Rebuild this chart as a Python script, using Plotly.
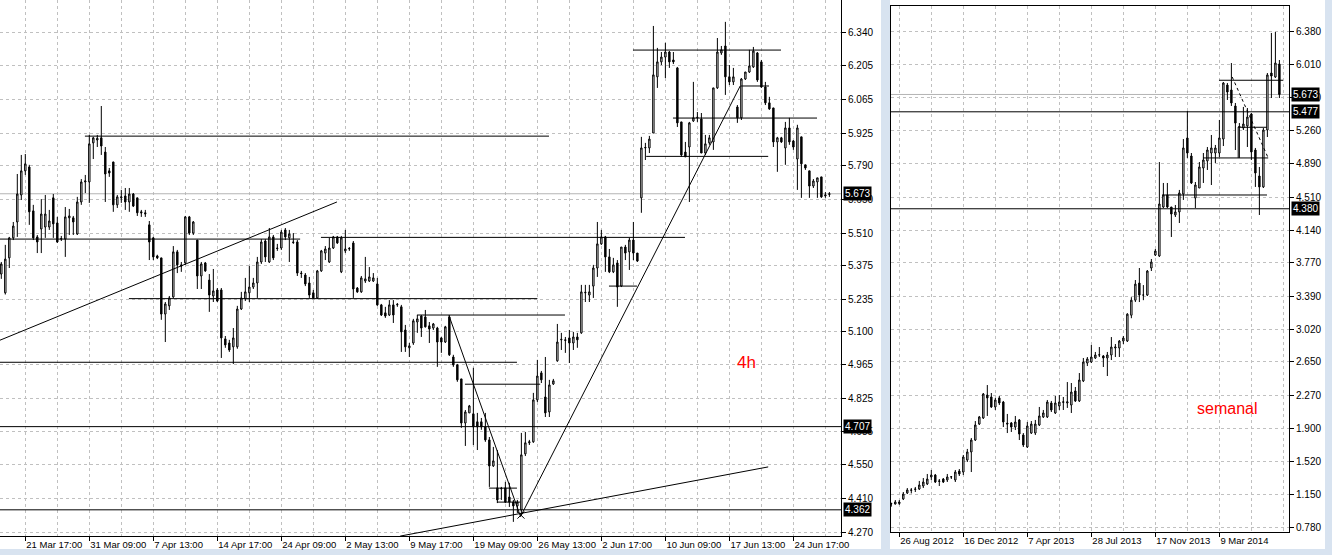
import plotly.graph_objects as go

# ---------------- 4h panel data ----------------
o4 = [5.340,5.262,5.407,5.490,5.556,5.668,5.768,5.784,5.602,5.494,5.527,5.535,5.535,5.656,5.552,5.485,5.485,5.573,5.573,5.506,
      5.639,5.722,5.722,5.884,5.896,5.905,5.846,5.768,5.805,5.627,5.656,5.664,5.639,5.672,5.656,5.598,5.594,5.544,5.490,5.415,
      5.407,5.174,5.208,5.245,5.432,5.378,5.386,5.577,5.510,5.481,5.332,5.386,5.315,5.249,5.274,5.274,5.071,5.054,5.038,5.038,
      5.195,5.237,5.262,5.286,5.303,5.390,5.477,5.390,5.494,5.448,5.448,5.523,5.490,5.473,5.473,5.344,5.336,5.303,5.262,5.241,
      5.353,5.427,5.390,5.448,5.494,5.349,5.436,5.444,5.469,5.282,5.266,5.311,5.311,5.311,5.299,5.212,5.179,5.170,5.212,5.212,
      5.204,5.108,5.034,5.054,5.141,5.166,5.162,5.125,5.116,5.116,5.075,5.058,5.162,4.996,4.963,4.905,4.722,4.764,4.760,4.727,
      4.727,4.706,4.652,4.544,4.453,4.449,4.453,4.415,4.394,4.378,4.361,4.594,4.640,4.644,4.818,4.930,4.830,4.768,4.884,4.980,
      5.067,5.067,5.075,5.054,5.079,5.096,5.262,5.253,5.290,5.365,5.465,5.494,5.411,5.349,5.386,5.290,5.452,5.432,5.481,5.427,
      5.656,5.863,5.863,5.925,6.158,6.220,6.240,6.261,6.228,6.195,5.971,5.846,5.867,5.975,5.988,5.983,5.842,5.884,5.888,6.112,
      6.257,6.286,6.158,6.137,6.033,5.988,6.149,6.178,6.199,6.257,6.220,6.116,6.050,6.029,5.888,5.905,5.863,5.946,5.892,5.817,
      5.909,5.793,5.768,5.705,5.722,5.743,5.664,5.670]
h4 = [5.390,5.461,5.494,5.556,5.755,5.834,5.838,5.793,5.627,5.502,5.651,5.668,5.606,5.672,5.577,5.498,5.618,5.610,5.581,5.660,
      5.734,5.751,5.917,5.909,5.917,6.037,5.867,5.780,5.805,5.668,5.689,5.697,5.697,5.676,5.656,5.606,5.606,5.560,5.494,5.420,
      5.407,5.224,5.249,5.456,5.440,5.390,5.581,5.581,5.560,5.481,5.390,5.390,5.340,5.361,5.282,5.282,5.083,5.067,5.116,5.208,
      5.266,5.324,5.373,5.324,5.411,5.485,5.485,5.531,5.502,5.465,5.523,5.531,5.523,5.510,5.481,5.353,5.344,5.328,5.274,5.357,
      5.440,5.456,5.490,5.498,5.498,5.498,5.523,5.452,5.477,5.286,5.332,5.411,5.369,5.344,5.324,5.216,5.204,5.232,5.232,5.220,
      5.212,5.129,5.054,5.154,5.170,5.170,5.191,5.141,5.137,5.121,5.079,5.125,5.170,5.005,4.967,4.905,4.776,4.797,4.951,4.764,
      4.743,4.764,4.664,4.623,4.610,4.457,4.478,4.474,4.403,4.403,4.681,4.685,4.652,4.847,4.984,4.938,4.996,4.901,4.905,5.133,
      5.096,5.079,5.108,5.100,5.096,5.295,5.295,5.295,5.378,5.556,5.523,5.498,5.444,5.407,5.398,5.452,5.461,5.490,5.556,5.427,
      5.909,5.884,5.913,6.369,6.278,6.261,6.299,6.265,6.261,6.199,5.971,5.888,5.971,6.137,6.012,6.008,5.917,5.917,6.112,6.319,
      6.286,6.386,6.207,6.195,6.041,6.153,6.178,6.270,6.282,6.261,6.228,6.137,6.075,6.029,5.909,5.909,5.971,5.988,5.896,5.959,
      5.909,5.793,5.768,5.734,5.739,5.743,5.680,5.680]
l4 = [5.320,5.255,5.365,5.481,5.494,5.647,5.751,5.544,5.481,5.427,5.427,5.490,5.523,5.490,5.469,5.477,5.411,5.502,5.502,5.502,
      5.627,5.676,5.635,5.817,5.867,5.834,5.639,5.743,5.598,5.614,5.635,5.606,5.598,5.618,5.581,5.577,5.577,5.398,5.398,5.402,
      5.150,5.058,5.191,5.241,5.344,5.349,5.378,5.502,5.502,5.278,5.278,5.349,5.183,5.224,5.224,4.992,5.034,5.017,4.967,5.030,
      5.191,5.228,5.224,5.278,5.241,5.382,5.390,5.386,5.398,5.436,5.440,5.481,5.390,5.465,5.332,5.324,5.290,5.241,5.237,5.237,
      5.349,5.398,5.386,5.444,5.465,5.344,5.427,5.436,5.241,5.262,5.262,5.303,5.307,5.307,5.208,5.166,5.158,5.166,5.137,5.204,
      5.017,5.017,4.996,5.046,5.096,5.079,5.118,5.054,5.108,4.955,5.013,5.054,5.000,4.955,4.893,4.702,4.627,4.764,4.631,4.610,
      4.694,4.644,4.457,4.540,4.390,4.403,4.390,4.374,4.312,4.349,4.340,4.585,4.631,4.640,4.809,4.888,4.747,4.747,4.880,4.976,
      5.025,5.013,4.971,5.025,5.034,5.092,5.224,5.224,5.241,5.328,5.461,5.349,5.344,5.344,5.204,5.286,5.398,5.357,5.398,5.390,
      5.594,5.813,5.842,5.925,6.112,6.207,6.153,6.195,6.211,5.950,5.826,5.826,5.639,5.971,5.971,5.842,5.834,5.876,5.855,6.108,
      6.249,6.083,6.124,6.124,5.967,5.979,6.145,6.174,6.195,6.137,6.112,6.041,6.021,5.867,5.764,5.884,5.793,5.876,5.855,5.689,
      5.656,5.772,5.656,5.697,5.656,5.656,5.656,5.660]
c4 = [5.382,5.402,5.490,5.539,5.672,5.768,5.797,5.598,5.490,5.473,5.589,5.589,5.560,5.548,5.473,5.487,5.577,5.581,5.556,5.639,
      5.722,5.726,5.880,5.905,5.903,5.871,5.755,5.759,5.627,5.660,5.660,5.639,5.672,5.622,5.594,5.594,5.590,5.473,5.411,5.407,
      5.174,5.216,5.241,5.432,5.378,5.373,5.577,5.510,5.556,5.332,5.382,5.353,5.253,5.270,5.228,5.075,5.046,5.025,5.075,5.195,
      5.241,5.266,5.286,5.303,5.390,5.473,5.411,5.494,5.407,5.446,5.514,5.494,5.506,5.471,5.344,5.342,5.299,5.253,5.241,5.353,
      5.436,5.444,5.448,5.494,5.469,5.490,5.444,5.446,5.278,5.266,5.324,5.320,5.328,5.324,5.212,5.170,5.166,5.212,5.170,5.214,
      5.100,5.038,5.042,5.146,5.154,5.116,5.121,5.112,5.133,5.058,5.058,5.121,5.005,4.963,4.901,4.722,4.768,4.793,4.706,4.706,
      4.706,4.652,4.544,4.565,4.403,4.451,4.394,4.394,4.378,4.394,4.590,4.640,4.644,4.818,4.917,4.901,4.764,4.880,4.897,5.058,
      5.069,5.065,5.054,5.079,5.067,5.266,5.264,5.266,5.365,5.465,5.494,5.411,5.349,5.378,5.286,5.452,5.427,5.481,5.427,5.394,
      5.863,5.865,5.900,6.166,6.220,6.240,6.261,6.220,6.220,5.967,5.834,5.826,5.967,5.988,5.990,5.842,5.880,5.905,6.112,6.261,
      6.270,6.158,6.137,6.158,5.988,6.149,6.178,6.203,6.265,6.145,6.116,6.050,6.025,5.888,5.905,5.888,5.946,5.888,5.867,5.946,
      5.797,5.780,5.705,5.726,5.739,5.660,5.668,5.673]
bars4 = list(range(len(c4)))
ticks4_idx = [6, 22, 38, 54, 70, 86, 102, 118, 134, 150, 166, 182, 198]
ticks4_txt = ["21 Mar 17:00", "31 Mar 09:00", "7 Apr 13:00", "14 Apr 17:00", "24 Apr 09:00", "2 May 13:00",
              "9 May 17:00", "19 May 09:00", "26 May 13:00", "2 Jun 17:00", "10 Jun 09:00", "17 Jun 13:00", "24 Jun 17:00"]
price4_ticks = [4.270, 4.410, 4.550, 4.685, 4.825, 4.965, 5.100, 5.235, 5.375, 5.510, 5.650, 5.790, 5.925, 6.065, 6.205, 6.340, 6.480]

# drawn objects on the 4h chart: (level, bar_from, bar_to) and (bar0, price0, bar1, price1)
hlines4 = [(5.912, 20.9, 136.9), (5.485, -1, 74.7), (5.492, 79.9, 170.9), (5.238, 31.9, 134.0),
           (4.974, -1, 128.9), (4.707, -1, 212), (4.362, -1, 212), (5.170, 103.9, 140.9),
           (4.883, 115.9, 134.7), (4.452, 121.9, 128.9), (4.394, 123.9, 129.7), (5.290, 151.9, 158.9),
           (6.269, 157.9, 194.9), (6.120, 184.9, 191.9), (5.987, 167.9, 203.9), (5.828, 161.2, 191.7)]
trends4 = [(-1.0, 5.061, 83.9, 5.639), (111.9, 5.168, 129.8, 4.334), (129.8, 4.334, 184.7, 6.120),
           (99.7, 4.253, 191.7, 4.540)]
xmark4 = ([129.9], [4.340])
last4 = 5.673
labels4 = [(5.673, "5.673"), (4.707, "4.707"), (4.362, "4.362")]

# ---------------- weekly panel data ----------------
ow = [1.040,1.040,1.045,1.097,1.165,1.195,1.205,1.210,1.244,1.267,1.346,1.368,1.295,1.323,1.312,1.346,1.312,1.413,1.402,1.538,
      1.629,1.764,1.945,2.013,2.273,2.251,2.138,2.240,2.194,1.955,1.957,1.911,1.991,1.821,1.685,1.843,1.843,1.934,2.025,2.025,
      2.183,2.070,2.149,2.190,2.183,2.160,2.319,2.206,2.432,2.635,2.647,2.692,2.726,2.715,2.692,2.726,2.805,2.805,2.884,2.884,
      3.176,3.346,3.540,3.404,3.404,3.710,3.857,3.846,4.400,4.536,4.400,4.310,4.344,4.547,5.181,4.977,4.502,4.615,4.841,4.921,
      5.011,5.011,5.011,5.169,5.780,5.724,5.543,5.305,5.294,5.317,5.452,5.045,4.751,4.627,5.271,5.916,5.871,6.018]
hw = [1.055,1.085,1.085,1.176,1.221,1.221,1.233,1.301,1.334,1.380,1.425,1.380,1.323,1.334,1.380,1.357,1.425,1.436,1.595,1.663,
      1.787,1.979,2.036,2.296,2.386,2.296,2.240,2.262,2.206,2.059,1.968,2.036,2.002,1.843,1.968,1.979,1.991,2.138,2.104,2.217,
      2.206,2.262,2.273,2.251,2.420,2.409,2.364,2.522,2.692,2.703,2.839,2.760,2.816,2.726,2.760,2.929,2.850,2.895,2.941,3.199,
      3.380,3.574,3.710,3.517,3.687,3.812,3.925,4.909,4.672,4.672,4.400,4.423,4.593,5.169,5.486,5.011,4.683,4.909,5.011,5.079,
      5.215,5.102,5.385,5.814,5.803,6.029,5.577,5.350,5.532,5.520,5.463,5.068,4.853,5.294,5.916,6.369,6.380,6.063]
lw = [1.010,1.035,1.030,1.085,1.153,1.160,1.176,1.199,1.221,1.255,1.312,1.278,1.244,1.278,1.289,1.323,1.289,1.357,1.368,1.515,
      1.402,1.753,1.934,2.002,2.036,2.127,2.104,2.160,1.911,1.843,1.855,1.877,1.764,1.685,1.674,1.832,1.821,1.923,2.013,2.013,
      2.081,2.059,2.104,2.104,2.127,2.070,2.194,2.194,2.420,2.601,2.635,2.681,2.703,2.590,2.488,2.669,2.703,2.703,2.850,2.873,
      3.142,3.325,3.325,3.346,3.393,3.676,3.846,3.835,4.389,4.389,4.061,4.287,4.219,4.480,4.955,4.660,4.389,4.615,4.672,4.819,
      4.649,4.898,4.966,5.090,5.611,5.543,5.045,4.955,5.271,5.079,4.932,4.627,4.310,4.615,5.192,5.633,5.860,5.633]
cw = [1.045,1.063,1.063,1.153,1.199,1.199,1.210,1.255,1.289,1.323,1.368,1.289,1.301,1.289,1.346,1.348,1.402,1.380,1.572,1.629,
      1.764,1.934,2.025,2.285,2.240,2.138,2.217,2.183,1.968,1.945,1.911,1.968,1.832,1.708,1.923,1.945,1.945,2.036,2.070,2.194,
      2.104,2.183,2.194,2.196,2.196,2.307,2.206,2.443,2.647,2.681,2.703,2.726,2.728,2.692,2.726,2.816,2.816,2.884,2.918,3.188,
      3.346,3.528,3.404,3.404,3.676,3.778,3.902,4.434,4.536,4.400,4.321,4.344,4.559,5.068,5.011,4.672,4.649,4.853,4.932,5.045,
      5.068,5.068,5.181,5.803,5.701,5.577,5.350,5.310,5.339,5.418,5.023,4.785,4.627,5.271,5.894,5.882,6.029,5.673]
barsw = list(range(-2, len(cw) - 2))
ticksw_idx = [0, 16, 32, 48, 64, 80]
ticksw_txt = ["26 Aug 2012", "16 Dec 2012", "7 Apr 2013", "28 Jul 2013", "17 Nov 2013", "9 Mar 2014"]
pricew_ticks = [0.780, 1.150, 1.520, 1.900, 2.270, 2.650, 3.020, 3.390, 3.770, 4.140, 4.510, 4.890, 5.260, 5.640, 6.010, 6.380]

hlinesw = [(5.477, -3, 99), (4.380, -3, 99), (5.834, 79.9, 95.9), (5.302, 84.7, 91.9),
           (4.955, 75.9, 92.2), (4.536, 65.7, 91.9)]
dottedw = [(83.2, 5.871, 92.2, 4.955)]
vlinesw = [(84.7, 4.955, 5.305)]
lastw = 5.673
labelsw = [(5.673, "5.673"), (5.477, "5.477"), (4.380, "4.380")]

# ---------------- figure ----------------
W, H = 1332, 555
FONT = "Liberation Sans"
GRID = "#c0c0c0"

def px_x(p):
    return p / W

def px_y(p):
    return (H - p) / H

candle_style = dict(
    increasing=dict(line=dict(color="black", width=1), fillcolor="white"),
    decreasing=dict(line=dict(color="black", width=1), fillcolor="black"),
    whiskerwidth=0, showlegend=False, hoverinfo="skip",
)

fig = go.Figure()
fig.add_trace(go.Candlestick(x=bars4, open=o4, high=h4, low=l4, close=c4, xaxis="x", yaxis="y", **candle_style))
fig.add_trace(go.Candlestick(x=barsw, open=ow, high=hw, low=lw, close=cw, xaxis="x2", yaxis="y2", **candle_style))
fig.add_trace(go.Scatter(x=xmark4[0], y=xmark4[1], mode="markers", xaxis="x", yaxis="y", showlegend=False,
                         hoverinfo="skip",
                         marker=dict(symbol="x-thin", size=7, line=dict(color="black", width=1))))

common_x = dict(showgrid=True, gridcolor=GRID, griddash="3px,3px", gridwidth=1, zeroline=False,
                showline=True, linecolor="black", linewidth=1, ticks="outside", ticklen=4, tickcolor="black",
                ticklabelposition="outside right", tickangle=0, automargin=False,
                tickfont=dict(family=FONT, size=9.5, color="black"),
                rangeslider=dict(visible=False), fixedrange=True)
common_y = dict(showgrid=True, gridcolor=GRID, griddash="3px,3px", gridwidth=1, zeroline=False,
                showline=True, linecolor="black", linewidth=1, ticks="outside", ticklen=4, tickcolor="black",
                side="right", automargin=False, tickfont=dict(family=FONT, size=10, color="black"),
                fixedrange=True)

fig.update_layout(
    width=W, height=H, autosize=False,
    margin=dict(l=0, r=0, t=0, b=0, pad=0),
    paper_bgcolor="white", plot_bgcolor="white",
    boxgap=0.5,
    xaxis=dict(domain=[0, px_x(841)], range=[-0.325, 209.9], anchor="y",
               tickmode="array", tickvals=ticks4_idx, ticktext=ticks4_txt,
               minor=dict(tickvals=list(range(-2, 210, 8)), showgrid=True, gridcolor=GRID,
                          griddash="3px,3px", ticks=""),
               **common_x),
    yaxis=dict(domain=[px_y(536), 1], range=[4.2534, 6.4767], anchor="x",
               tickmode="array", tickvals=price4_ticks, ticktext=[f"{v:.3f}" for v in price4_ticks],
               **common_y),
    xaxis2=dict(domain=[px_x(891), px_x(1289)], range=[-2.075, 97.4], anchor="y2", mirror=True,
                tickmode="array", tickvals=ticksw_idx, ticktext=ticksw_txt,
                minor=dict(tickvals=list(range(0, 98, 8)), showgrid=True, gridcolor=GRID,
                           griddash="3px,3px", ticks=""),
                **common_x),
    yaxis2=dict(domain=[px_y(532), px_y(6)], range=[0.7235, 6.674], anchor="x2", mirror=True,
                tickmode="array", tickvals=pricew_ticks, ticktext=[f"{v:.3f}" for v in pricew_ticks],
                **common_y),
)

shapes = []
# window frame bands
band = "#d8e3f0"
shapes.append(dict(type="rect", xref="paper", yref="paper", x0=px_x(881), x1=px_x(890), y0=0, y1=1,
                   fillcolor=band, line=dict(width=0), layer="below"))
shapes.append(dict(type="rect", xref="paper", yref="paper", x0=px_x(1325), x1=1, y0=0, y1=1,
                   fillcolor=band, line=dict(width=0), layer="below"))
shapes.append(dict(type="rect", xref="paper", yref="paper", x0=0, x1=1, y0=0, y1=px_y(549),
                   fillcolor=band, line=dict(width=0), layer="below"))

# last-price lines
shapes.append(dict(type="line", xref="x", yref="y", x0=-1, x1=212, y0=last4, y1=last4,
                   line=dict(color="#b4b4b4", width=1), layer="between"))
shapes.append(dict(type="line", xref="x2", yref="y2", x0=-3, x1=99, y0=lastw, y1=lastw,
                   line=dict(color="#b4b4b4", width=1), layer="between"))

for lvl, a, b in hlines4:
    shapes.append(dict(type="line", xref="x", yref="y", x0=a, x1=b, y0=lvl, y1=lvl,
                       line=dict(color="black", width=1)))
for a, va, b, vb in trends4:
    shapes.append(dict(type="line", xref="x", yref="y", x0=a, x1=b, y0=va, y1=vb,
                       line=dict(color="black", width=1)))
for lvl, a, b in hlinesw:
    shapes.append(dict(type="line", xref="x2", yref="y2", x0=a, x1=b, y0=lvl, y1=lvl,
                       line=dict(color="black", width=1)))
for a, va, b, vb in dottedw:
    shapes.append(dict(type="line", xref="x2", yref="y2", x0=a, x1=b, y0=va, y1=vb,
                       line=dict(color="black", width=1, dash="dot")))
for a, va, vb in vlinesw:
    shapes.append(dict(type="line", xref="x2", yref="y2", x0=a, x1=a, y0=va, y1=vb,
                       line=dict(color="black", width=1)))
fig.update_layout(shapes=shapes)

annotations = []
for lvl, txt in labels4:
    annotations.append(dict(xref="paper", yref="y", x=px_x(843), y=lvl, xanchor="left", yanchor="middle",
                            text=txt, showarrow=False, bgcolor="black", borderpad=1,
                            font=dict(family=FONT, size=10, color="white")))
for lvl, txt in labelsw:
    annotations.append(dict(xref="paper", yref="y2", x=px_x(1291), y=lvl, xanchor="left", yanchor="middle",
                            text=txt, showarrow=False, bgcolor="black", borderpad=1,
                            font=dict(family=FONT, size=10, color="white")))
annotations.append(dict(xref="x", yref="y", x=186.4, y=4.975, text="4h", showarrow=False,
                        font=dict(family=FONT, size=17, color="#ff0000")))
annotations.append(dict(xref="x2", yref="y2", x=81.9, y=2.126, text="semanal", showarrow=False,
                        font=dict(family=FONT, size=16, color="#ff0000")))
fig.update_layout(annotations=annotations)

fig.write_html("out.html", config={"displayModeBar": False},
               post_script="document.body.style.margin='0px';")
